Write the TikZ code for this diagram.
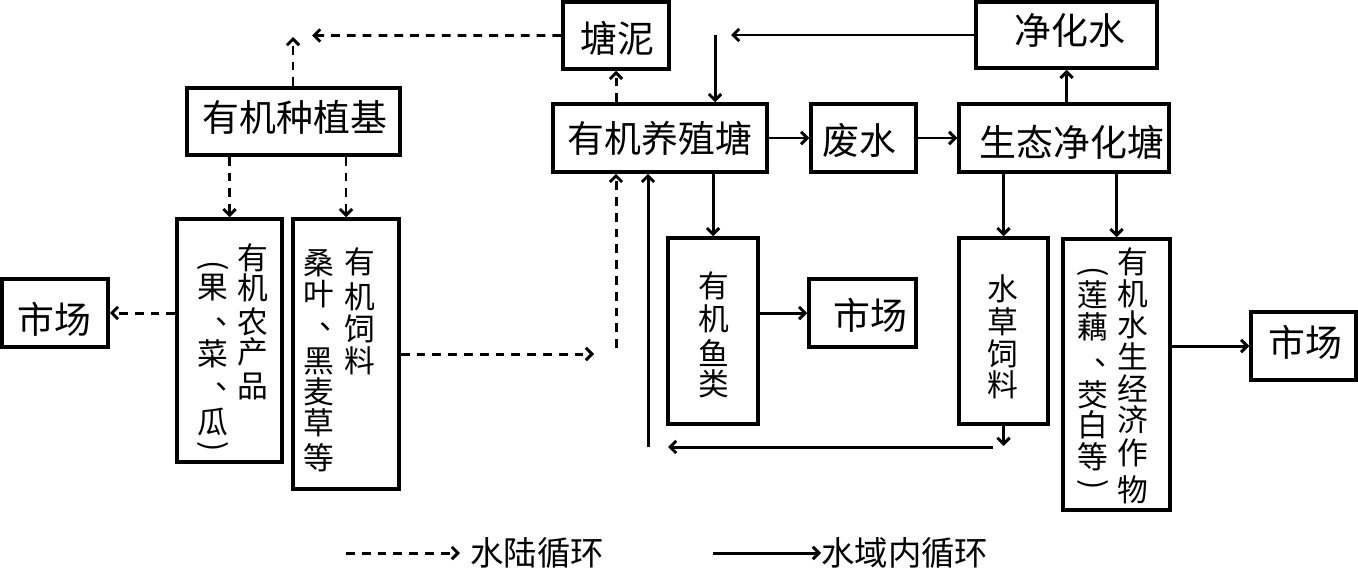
\documentclass[tikz,border=0pt]{standalone}
\usepackage{fontspec}
\setmainfont{Noto Sans CJK SC}
\usetikzlibrary{arrows.meta,fit}
\begin{document}
\begin{tikzpicture}[x=0.02cm,y=-0.02cm,
  box/.style={draw,line width=2pt,inner sep=0pt},
  ht/.style={inner sep=0pt,font=\fontsize{21}{24}\selectfont},
  vt/.style={inner sep=0pt,font=\fontsize{17.5}{20}\selectfont},
  par/.style={vt,rotate=-90},
  lt/.style={inner sep=0pt,font=\fontsize{19}{22}\selectfont},
  dun/.style={inner sep=0pt,font=\fontsize{17.5}{20}\selectfont,yshift=-3pt,text height=0.45em,text depth=0pt},
  ln/.style={line width=1.7pt,-{Straight Barb[length=3.5pt,width=7pt,line width=1.7pt]}},
  dl/.style={ln,dash pattern=on 5pt off 4pt},
]
\useasboundingbox (0,0) rectangle (1358,575);
% boxes
\node[box,fit={(563,2)(669,69)}] (tangni) {};
\node[box,fit={(976,2)(1157,68)}] (jhs) {};
\node[box,fit={(187,88)(400,155)}] (zzj) {};
\node[box,fit={(553,104)(767,172)}] (yzt) {};
\node[box,fit={(811,104)(916,172)}] (fs) {};
\node[box,fit={(959,104)(1169,172)}] (stt) {};
\node[box,fit={(177,219)(282,462)}] (ncp) {};
\node[box,fit={(293,219)(399,489)}] (sl) {};
\node[box,fit={(2,279)(108,347)}] (scL) {};
\node[box,fit={(668,238)(758,424)}] (yl) {};
\node[box,fit={(809,279)(916,347)}] (scM) {};
\node[box,fit={(959,238)(1048,424)}] (scsl) {};
\node[box,fit={(1063,239)(1170,510)}] (zw) {};
\node[box,fit={(1251,312)(1356,380)}] (scR) {};
% horizontal texts
\node[ht] (t1) at (617,38) {塘泥};
\node[ht] (t2) at (1070,30) {净化水};
\node[ht] (t3) at (295,117) {有机种植基};
\node[ht] (t4) at (660,138) {有机养殖塘};
\node[ht] (t5) at (859,141) {废水};
\node[ht] (t6) at (1072,142) {生态净化塘};
\node[ht] (t7) at (54,319) {市场};
\node[ht] (t8) at (870,315) {市场};
\node[ht] (t9) at (1305,342) {市场};
% vertical texts
\foreach \c/\x/\y [count=\i] in {有/253/258,机/253/288,农/253/322,产/253/352,品/253/386,果/213/288,菜/213/354,瓜/213/422}
  \node[vt] (ncpc\i) at (\x,\y) {\c};
\node[par] (ncpp1) at (213,266) {(};
\node[par] (ncpp2) at (213,447) {)};
\node[dun] (ncpd1) at (222,315) {\makebox[0.45em][l]{、}};
\node[dun] (ncpd2) at (222,380) {\makebox[0.45em][l]{、}};
\foreach \c/\x/\y [count=\i] in {有/360/262,机/360/297,饲/360/329,料/360/361,桑/319/263,叶/319/294,黑/319/361,麦/319/392,草/319/423,等/319/458}
  \node[vt] (slc\i) at (\x,\y) {\c};
\node[dun] (sld1) at (326,320) {\makebox[0.45em][l]{、}};
\foreach \c/\y [count=\i] in {有/286,机/319,鱼/353,类/384}
  \node[vt] (ylc\i) at (714,\y) {\c};
\foreach \c/\y [count=\i] in {水/289,草/322,饲/354,料/385}
  \node[vt] (scslc\i) at (1003,\y) {\c};
\foreach \c/\x/\y [count=\i] in {有/1133/262,机/1133/294,水/1133/325,生/1133/356,经/1133/388,济/1133/420,作/1133/453,物/1133/490,莲/1093/295,藕/1093/327,茭/1093/395,白/1093/425,等/1093/457}
  \node[vt] (zwc\i) at (\x,\y) {\c};
\node[par] (zwp1) at (1093,272) {(};
\node[par] (zwp2) at (1093,485) {)};
\node[dun] (zwd1) at (1101,356) {\makebox[0.45em][l]{、}};
% legend
\node[lt,anchor=west] (lg1) at (470,553) {水陆循环};
\node[lt,anchor=west] (lg2) at (821,553) {水域内循环};
% free ends
\coordinate (c1) at (312,35.5);
\coordinate (c2) at (293,37);
\coordinate (c3) at (594,354);
\coordinate (c4) at (616,348);
\coordinate (c5) at (648,447);
\coordinate (c6) at (1003.5,446);
\coordinate (c7) at (668,447);
\coordinate (c8) at (993,447);
\coordinate (c9) at (731,35);
\coordinate (c10) at (715,35);
\coordinate (lgs1) at (346,553);
\coordinate (lge1) at (460,553);
\coordinate (lgs2) at (713,553);
% dashed connectors
\draw[dl] (tangni.west) -- (c1);
\draw[dl] (zzj.north -| c2) -- (c2);
\draw[dl] (tangni.south |- yzt.north) -- (tangni.south);
\draw[dl] (ncp.north |- zzj.south) -- (ncp.north);
\draw[dl] (sl.north |- zzj.south) -- (sl.north);
\draw[dl] (scL.east -| ncp.west) -- (scL.east);
\draw[dl] (sl.east |- c3) -- (c3);
\draw[dl] (c4) -- (c4 |- yzt.south);
% solid connectors
\draw[ln] (c5) -- (c5 |- yzt.south);
\draw[ln] (scsl.south) -- (c6);
\draw[ln] (c8) -- (c7);
\draw[ln] (jhs.west) -- (c9);
\draw[ln] (c10) -- (c10 |- yzt.north);
\draw[ln] (yzt.east) -- (fs.west);
\draw[ln] (fs.east) -- (stt.west);
\draw[ln] (jhs.south |- stt.north) -- (jhs.south);
\draw[ln] (yl.north |- yzt.south) -- (yl.north);
\draw[ln] (yl.east |- scM.west) -- (scM.west);
\draw[ln] (scsl.north |- stt.south) -- (scsl.north);
\draw[ln] (zw.north |- stt.south) -- (zw.north);
\draw[ln] (zw.east |- scR.west) -- (scR.west);
% legend lines
\draw[dl] (lgs1) -- (lge1);
\draw[ln] (lgs2) -- (lg2.west);
\end{tikzpicture}
\end{document}
